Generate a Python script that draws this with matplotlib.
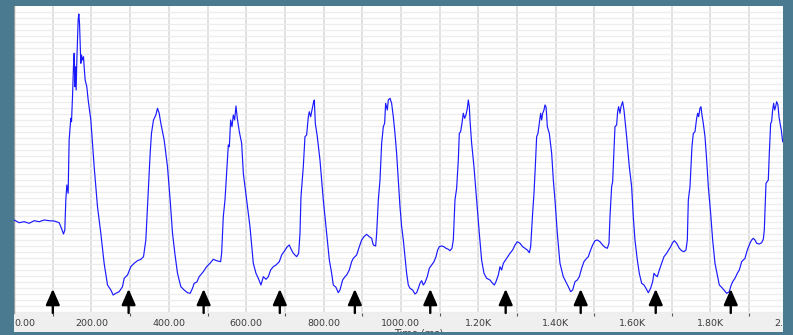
import numpy as np
import matplotlib.pyplot as plt
from matplotlib.patches import Rectangle
from matplotlib.ticker import MultipleLocator

# recorded trace: time in ms, amplitude in arbitrary units
time_ms = [
    0, 12.9, 25.9, 38.8, 51.7, 64.6, 77.6, 90.5, 103.4, 116.4, 120.7, 127.6,
    131, 133.6, 136.2, 139.6, 142.2, 146.5, 148.3, 150.9, 153.4, 155.2, 156.9,
    158.6, 160.3, 162.1, 165.5, 167.2, 169, 170.7, 172.4, 174.1, 176.7, 179.3,
    181, 183.6, 187.9, 191.4, 198.3, 206.9, 215.5, 224.1, 232.7, 241.4, 250,
    256, 262.9, 271.5, 280.2, 284.5, 293.1, 301.7, 310.3, 318.9, 327.6, 334.5,
    340.5, 346.5, 351.7, 355.1, 360.3, 366.4, 370.7, 375, 379.3, 387.9, 396.5,
    403.4, 409.5, 415.5, 422.4, 431, 439.6, 448.2, 455.1, 461.2, 465.5, 472.4,
    478.4,
    489.1, 497.7, 506.4, 515, 523.6, 533.9, 536.5, 540.8, 545.2, 549.5, 553.8,
    556.4, 559.8, 563.3, 566.7, 570.1, 573.6, 577, 582.2, 588.3, 592.6, 601.2,
    609.8, 618.4, 625.3, 631.4, 638.2, 644.3, 651.2, 657.2, 663.2, 670.1, 677,
    685.7, 691.7, 697.7, 706.3, 711.5, 715, 721.9, 730.5, 735.7, 739.1, 741.7,
    747.7, 752, 756.3, 760.7, 763.2, 766.7, 770.1, 773.6, 776.2, 778.7, 783.9,
    790.8, 799.4, 808, 815, 821, 825.3, 832.2, 838.2, 842.5, 849.4, 855.5,
    859.8, 866.7, 872.7, 877, 885.6, 892.5, 898.6, 904.6, 911.5, 918.4, 924.4,
    928.7, 934.8, 937.4, 941.7, 946, 950.3, 954.6, 958, 960.6, 964.9, 967.5,
    971.8,
    976.1, 980.4, 984.7, 989, 993.4, 997.7, 1002, 1006.3, 1010.6, 1014.9,
    1019.2, 1023.5, 1030.4, 1036.5, 1040.8, 1045.1, 1049.4, 1053.7, 1058,
    1062.3, 1068.3, 1073.5, 1079.6, 1085.6, 1090.8, 1095.1, 1099.4, 1105.4,
    1111.4, 1116.6, 1122.7, 1127, 1132.1, 1135.6, 1139.9, 1144.2, 1148.5,
    1151.1, 1154.5, 1158, 1161.4, 1164.9, 1168.3, 1171.8, 1174.4, 1177, 1178.7,
    1183, 1189, 1195.9, 1202.8, 1208.8, 1214.9, 1221.8, 1230.4, 1237.3, 1241.6,
    1245.9, 1252, 1256.3, 1260.6, 1264.9, 1273.5, 1282.1, 1289, 1295.1, 1301.1,
    1308, 1314.9, 1320.9, 1327, 1332.1, 1335.6, 1340.7, 1344.2, 1347.6, 1351.1,
    1354.5, 1358, 1361.4, 1364, 1366.6, 1370, 1372.6, 1375.2, 1376.9, 1378.7,
    1383.8, 1389.9, 1394.2, 1398.5, 1404.5, 1411.4, 1420, 1428.7, 1433, 1439,
    1444.2, 1450.2, 1456.2, 1461.4,
    1467.4, 1473.4, 1480.3, 1484.7, 1489, 1495.9, 1501.9, 1507.9, 1514.8,
    1521.7, 1527.8, 1533.8, 1538.1, 1540.7, 1545, 1547.6, 1551, 1553.6, 1557.9,
    1560.5, 1563.1, 1566.5, 1569.1, 1573.4, 1576.9, 1579.5, 1583.8, 1590.7,
    1596.7, 1601, 1605.3, 1611.4, 1616.5, 1622.6, 1628.6, 1633.8, 1639.8,
    1645.8, 1651, 1654.5, 1657.9, 1663.1, 1668.3, 1674.3, 1680.3, 1687.2,
    1692.4, 1697.6, 1702.7, 1707, 1713.1, 1720, 1726, 1732, 1737.2, 1740.7,
    1743.3, 1747.6, 1752.7, 1756.2, 1760.5, 1764.8, 1767.4, 1770, 1773.4, 1776,
    1778.6, 1782, 1786.4, 1790.7, 1795, 1801, 1806.2, 1812.2, 1818.2, 1823.4,
    1829.4, 1835.5, 1842.4, 1849.3, 1852.7, 1857.9, 1863.9, 1870, 1875.1,
    1881.2, 1885.5, 1889.8, 1895.8, 1902.7, 1907, 1911.3, 1915.7, 1920, 1926.9,
    1932.9, 1937.2, 1939.8, 1944.1, 1950.1, 1952.7, 1956.2, 1958.7, 1961.3,
    1963.9, 1966.5, 1969.1, 1971.7, 1975.1, 1977.7, 1982, 1983.8, 1987.2,
]
signal = [
    93, 90.3, 91.3, 89.7, 92.3, 91.3, 93, 92.3, 92, 90.3, 86.3, 79,
    83, 113, 128, 119.7, 173, 194.7, 191.3, 216.3, 246.3, 259.7, 226.3,
    246.3, 223, 253, 293, 299, 289.7, 269.7, 249.7, 258, 253, 256.3,
    246.3, 233, 226.3, 213, 193, 146.3, 106.3, 79.7, 49.7, 28, 23,
    18, 19.7, 21.3, 26.3, 34.7, 38, 46.3, 49.7, 52.3, 53.7, 56.3,
    73, 119.7, 159.7, 179.7, 193, 198, 204.7, 199.7, 189.7, 173, 146.3,
    113, 79.7, 59.7, 39.7, 26.3, 23, 20.3, 19.7, 24.7, 29.7, 31,
    36.3,
    41.3, 46.3, 49.7, 53.7, 52.3, 51.3, 59.7, 96.3, 113, 139.7, 168,
    166.3, 193, 186.3, 198, 193, 207, 194.7, 181.3, 169.7, 139.7, 113,
    86.3, 49.7, 39.7, 34.7, 28, 36.3, 33.7, 36.3, 43, 46.3, 48,
    51.3, 58, 61.3, 66.3, 68, 64.7, 59.7, 56.3, 59.7, 79.7, 116.3,
    146.3, 176.3, 178, 196.3, 201.3, 196.3, 203, 209.7, 213, 189.7, 176.3,
    153, 113, 79.7, 53, 39.7, 28, 25.7, 20.3, 23, 33, 36.3,
    38, 43, 51.3, 54.7, 58, 66.3, 73, 76.3, 78.7, 76.3, 74.7,
    68, 67, 79.7, 113, 133, 169.7, 186.3, 189.7, 209.7, 203, 213,
    214.7,
    209.7, 196.3, 179.7, 159.7, 133, 106.3, 86.3, 73, 56.3, 39.7,
    28, 24.7, 23, 19, 20.3, 24.7, 29.7, 32.3, 28,
    30.3, 36.3, 44.7, 48, 51.3, 56.3, 63, 66.3, 67,
    66.3, 64.7, 63.7, 62.3, 64.7, 73, 113, 124.7, 153,
    179.7, 181.3, 189.7, 199.7, 194.7, 198, 204.7, 213, 206.3, 193,
    169.7, 146.3, 113, 79.7, 53, 39.7, 34.7, 33, 29.7, 28,
    31.3, 38, 46.3, 43, 49.7, 54.7, 59.7, 63, 68, 71.3,
    69.7, 66.3, 64.7, 63, 60.3, 66.3, 99.7, 119.7, 146.3, 176.3,
    179.7, 189.7, 199.7, 193, 199.7, 203, 208, 206.3, 198, 186.3,
    179.7, 159.7, 133, 113, 79.7, 49.7, 36.3, 29.7, 26.3, 21.3,
    23, 31.3, 33, 36.3,
    44.7, 51.3, 54.7, 56.3, 61.3, 68, 72.3, 73, 71.3,
    68, 65.7, 64.7, 69.7, 96.3, 126.3, 131.3, 163, 186.3, 188,
    201.3, 206.3, 199.7, 206.3, 211.3, 203, 193, 176.3, 146.3,
    126.3, 96.3, 73, 53, 39.7, 29.7, 28, 24.7, 20.3,
    24.7, 31.3, 39.7, 38, 36.3, 43, 49.7, 56.3, 59.7,
    63, 66.3, 70.3, 72.3, 69.7, 64.7, 62.3, 61.3, 63, 73,
    113, 126.3, 166.3, 179.7, 181.3, 194.7, 199.7, 196.3, 204.7, 206.3,
    198, 189.7, 176.3, 153, 126.3, 99.7, 73, 49.7, 38, 28,
    25.7, 23, 19.7, 21.3, 26.3, 31.3, 34.7, 39.7, 43,
    51.3, 53, 54.7, 63, 69.7, 73, 74.7, 73, 69.7, 69,
    70.3, 73.7, 83, 129.7, 133, 159.7, 189.7, 191.3, 203,
    209.7, 203, 206.3, 211.3, 208, 196.3, 186.3, 183, 171.3,
]

# stimulus markers
stim_ms = [100, 296, 490, 687, 881, 1076, 1271, 1465, 1659, 1853]

tick_ms = [0, 200, 400, 600, 800, 1000, 1200, 1400, 1600, 1800, 2000]
tick_labels = ['0.00', '200.00', '400.00', '600.00', '800.00', '1000.00',
               '1.20K', '1.40K', '1.60K', '1.80K', '2.00K']

W, H = 793, 335
frame = '#4a7a8f'

fig = plt.figure(figsize=(W / 100, H / 100), dpi=100, facecolor='#efefef')
ax = fig.add_axes([14.15 / W, 22 / H, 773.45 / W, 307 / H])
ax.set_facecolor('white')

ax.set_xlim(0, 2000)
ax.set_ylim(0, 307)

# grid: vertical every 100 ms, dense horizontal lines
ax.set_xticks(tick_ms)
ax.set_xticklabels(tick_labels)
ax.xaxis.set_minor_locator(MultipleLocator(100))
ax.set_yticks(np.arange(1, 307, 6))
ax.set_yticklabels([])
ax.grid(True, axis='x', which='both', color='#d9d9d9', lw=1.1, zorder=0)
ax.grid(True, axis='y', which='major', color='#ededed', lw=0.9, zorder=0)
ax.set_axisbelow(True)

ax.tick_params(axis='x', which='major', length=0, pad=4.5, labelsize=6.8,
               labelcolor='#3c3c3c')
ax.tick_params(axis='x', which='minor', length=2.0, width=0.8, color='#555555')
ax.tick_params(axis='y', length=0)
ax.get_xticklabels()[0].set_ha('left')

for side in ['top', 'right', 'bottom']:
    ax.spines[side].set_visible(False)
ax.spines['left'].set_color('#9a9a9a')
ax.spines['left'].set_linewidth(1.0)

ax.plot(time_ms, signal, color='#1a1aff', lw=0.85, zorder=3)

for t in stim_ms:
    ax.annotate('', xy=(t, 24), xytext=(t, 0),
                arrowprops=dict(arrowstyle='-|>,head_length=0.95,head_width=0.42',
                                mutation_scale=10, lw=1.7, color='black',
                                shrinkA=0, shrinkB=0),
                zorder=4)

# axis title sits low, half under the window border
fig.text(419 / W, 1 - 329 / H, 'Time (ms)', ha='center', va='top',
         fontsize=7, color='#3c3c3c', zorder=0.5)

# window border
for x, y, w, h in [(0, 0, 14 / W, 1), (783 / W, 0, 10 / W, 1),
                   (0, 1 - 6 / H, 1, 6 / H), (0, 0, 1, 3 / H)]:
    fig.patches.append(Rectangle((x, y), w, h, transform=fig.transFigure,
                                 facecolor=frame, edgecolor='none', zorder=5))

fig.savefig('out.png', dpi=100, facecolor=fig.get_facecolor())
